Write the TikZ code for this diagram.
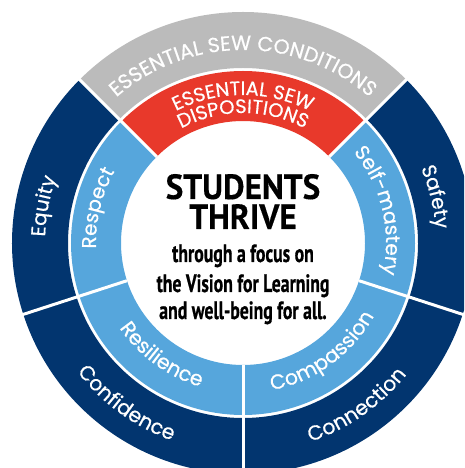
\documentclass[tikz,border=0pt]{standalone}
\usepackage{fontspec}
\usetikzlibrary{decorations.text}
\setmainfont{Poppins}[FakeBold=0.5]
\newfontfamily\ctrfont{PT Sans}[FakeStretch=0.95,FakeBold=0.3]
\newfontfamily\ctrfontb{PT Sans}[FakeStretch=0.71,FakeBold=0.6]
\definecolor{navy}{HTML}{02356F}
\definecolor{sky}{HTML}{56A6DC}
\definecolor{redw}{HTML}{E8392B}
\definecolor{greyw}{HTML}{BBBBBB}
\newcommand{\wedgeshape}[5]{\fill[#5] (#1:#3) arc (#1:#2:#3) -- (#2:#4) arc (#2:#1:#4) -- cycle;}
\newcommand{\ringlabel}[5]{\path[decorate,decoration={text along path,text align=center,text={|\fontsize{#4}{#4}\selectfont\color{white}|#5}}] (#1:#3) arc (#1:#2:#3);}
\tikzset{x=1pt,y=1pt,
  divider/.style={draw=white,line width=3pt},
  ctrtext/.style={inner sep=0pt,text=black,align=center,anchor=base}}
\begin{document}
\begin{tikzpicture}
\useasboundingbox (0,0) rectangle (464,468);
\clip (0,0) rectangle (464,468);
\begin{scope}[shift={(243,225)}]
\coordinate (c) at (0,0);
% outer ring
\wedgeshape{45}{135}{175}{231}{greyw}
\wedgeshape{135}{198}{175}{231}{navy}
\wedgeshape{198}{270}{175}{231}{navy}
\wedgeshape{270}{342}{175}{231}{navy}
\wedgeshape{342}{405}{175}{231}{navy}
% inner ring
\wedgeshape{45}{135}{122}{172}{redw}
\wedgeshape{135}{198}{122}{172}{sky}
\wedgeshape{198}{270}{122}{172}{sky}
\wedgeshape{270}{342}{122}{172}{sky}
\wedgeshape{342}{405}{122}{172}{sky}
% dividers
\foreach \a in {45,135,198,270,342}{
  \draw[divider] (\a:122) -- (\a:232);
}
% labels
\ringlabel{135}{45}{193}{20.5}{ESSENTIAL SEW CONDITIONS}
\ringlabel{135}{45}{148}{19.5}{ESSENTIAL SEW}
\ringlabel{135}{45}{130}{19.5}{DISPOSITIONS}
\ringlabel{200}{139}{198}{20}{Equity}
\ringlabel{197}{136}{147}{20}{Respect}
\ringlabel{44}{-17}{143}{20}{Self-mastery}
\ringlabel{44}{-17}{193}{20}{Safety}
\ringlabel{199}{269}{150}{20.5}{Resilience}
\ringlabel{199}{269}{210}{20.5}{Confidence}
\ringlabel{271}{341}{150}{20.5}{Compassion}
\ringlabel{270}{340}{210}{20.5}{Connection}
\end{scope}
\node[ctrtext,font=\ctrfont\bfseries\fontsize{35}{35}\selectfont] (t1) at (243,269) {STUDENTS};
\node[ctrtext,font=\ctrfont\bfseries\fontsize{35}{35}\selectfont] (t2) at (243,239) {THRIVE};
\node[ctrtext,font=\ctrfontb\bfseries\fontsize{25}{25}\selectfont] (t3) at (243,206) {through a focus on};
\node[ctrtext,font=\ctrfontb\bfseries\fontsize{25}{25}\selectfont] (t4) at (243,176) {the Vision for Learning};
\node[ctrtext,font=\ctrfontb\bfseries\fontsize{25}{25}\selectfont] (t5) at (243,149) {and well-being for all.};
\end{tikzpicture}
\end{document}
